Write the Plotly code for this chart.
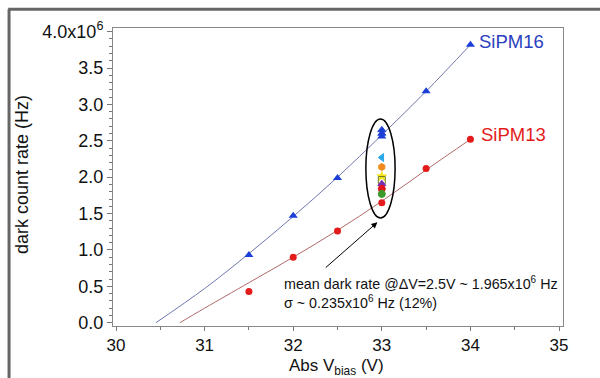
import plotly.graph_objects as go

# ---- data (rates in units of 10^6 Hz) ----
v_pts = [31.5, 32.0, 32.5, 33.0, 33.5, 34.0]
sipm16_rate = [0.93, 1.47, 1.99, 2.56, 3.18, 3.82]
sipm13_rate = [0.43, 0.90, 1.26, 1.65, 2.12, 2.52]

fit16_v = [30.45, 31.0, 31.5, 32.0, 32.5, 33.0, 33.5, 34.0]
fit16_rate = [0.0, 0.47, 0.95, 1.46, 2.0, 2.58, 3.18, 3.82]
fit13_v = [30.72, 31.0, 31.5, 32.0, 32.5, 33.0, 33.5, 34.0]
fit13_rate = [0.0, 0.2, 0.55, 0.9, 1.27, 1.67, 2.1, 2.52]

cluster_v = [33.0] * 9
cluster_rate = [2.65, 2.60, 2.27, 2.14, 2.01, 1.96, 1.91, 1.84, 1.77]
cluster_symbols = ["triangle-up", "triangle-up", "triangle-left", "hexagon", "star",
                   "square-open", "triangle-up", "circle", "circle"]
cluster_colors = ["#1b3fd6", "#1b3fd6", "#29a8e8", "#f08a1c", "#f2e21a",
                  "#6b7a10", "#7a2fb0", "#e0181c", "#3c9a2a"]

x_ticks = [30, 31, 32, 33, 34, 35]
y_ticks = [0.0, 0.5, 1.0, 1.5, 2.0, 2.5, 3.0, 3.5, 4.0]
y_ticktext = ["0.0", "0.5", "1.0", "1.5", "2.0", "2.5", "3.0", "3.5", "4.0x10<sup>6</sup>"]

BLUE = "#1b3fd6"
RED = "#e31b1b"
FONT = "Arial, Liberation Sans, sans-serif"

fig = go.Figure()
fig.add_trace(go.Scatter(x=fit16_v, y=fit16_rate, mode="lines",
                         line=dict(color="#6f78b0", width=1, shape="spline"), hoverinfo="skip"))
fig.add_trace(go.Scatter(x=fit13_v, y=fit13_rate, mode="lines",
                         line=dict(color="#b06a6a", width=1, shape="spline"), hoverinfo="skip"))
fig.add_trace(go.Scatter(x=v_pts, y=sipm16_rate, mode="markers",
                         marker=dict(symbol="triangle-up", size=8, color=BLUE)))
fig.add_trace(go.Scatter(x=v_pts, y=sipm13_rate, mode="markers",
                         marker=dict(symbol="circle", size=7, color=RED)))
fig.add_trace(go.Scatter(x=cluster_v, y=cluster_rate, mode="markers",
                         marker=dict(symbol=cluster_symbols, size=7, color=cluster_colors,
                                     line=dict(width=1, color=cluster_colors))))

# ellipse around the cluster
fig.add_shape(type="circle", xref="x", yref="y", x0=32.82, x1=33.15, y0=1.44, y1=2.80,
              line=dict(color="black", width=1.5))

# outer frame (cropped window border)
fig.add_shape(type="line", xref="paper", yref="paper", x0=-0.233, x1=1.1, y0=1.063, y1=1.063,
              line=dict(color="#666", width=3))
fig.add_shape(type="line", xref="paper", yref="paper", x0=-0.231, x1=-0.231, y0=1.063, y1=-0.2,
              line=dict(color="#666", width=3))

# arrow
fig.add_annotation(x=32.95, y=1.38, ax=32.35, ay=0.74, xref="x", yref="y", axref="x", ayref="y",
                   text="", showarrow=True, arrowhead=2, arrowsize=1.2, arrowwidth=1, arrowcolor="black")

fig.add_annotation(x=34.07, y=3.87, text="SiPM16", showarrow=False, xanchor="left", yanchor="middle",
                   font=dict(family=FONT, size=18.5, color="#2a40c0"))
fig.add_annotation(x=34.1, y=2.59, text="SiPM13", showarrow=False, xanchor="left", yanchor="middle",
                   font=dict(family=FONT, size=18.5, color=RED))
fig.add_annotation(x=31.87, y=0.55, text="mean dark rate @ΔV=2.5V ~ 1.965x10<sup>6</sup> Hz",
                   showarrow=False, xanchor="left", yanchor="middle",
                   font=dict(family=FONT, size=14.3, color="#111"))
fig.add_annotation(x=31.87, y=0.28, text="σ ~ 0.235x10<sup>6</sup> Hz (12%)",
                   showarrow=False, xanchor="left", yanchor="middle",
                   font=dict(family=FONT, size=14.3, color="#111"))

# axis titles
fig.add_annotation(xref="paper", yref="paper", x=0.497, y=-0.138, text="Abs V<sub>bias</sub> (V)",
                   showarrow=False, xanchor="center", yanchor="middle",
                   font=dict(family=FONT, size=17, color="#111"))
fig.add_annotation(xref="paper", yref="paper", x=-0.202, y=0.507, text="dark count rate (Hz)",
                   showarrow=False, xanchor="center", yanchor="middle", textangle=-90,
                   font=dict(family=FONT, size=18, color="#111"))

fig.update_layout(
    width=600, height=378,
    margin=dict(l=113, r=37, t=28, b=52),
    plot_bgcolor="white", paper_bgcolor="white",
    showlegend=False,
    font=dict(family=FONT, size=18, color="#111"),
)
fig.update_xaxes(range=[29.966, 35.045], tickvals=x_ticks, ticks="outside", ticklen=4,
                 tickcolor="#777", showline=True, linecolor="#888", linewidth=1, mirror=True,
                 showgrid=False, zeroline=False,
                 minor=dict(dtick=0.5, ticks="outside", ticklen=3, tickcolor="#777"),
                 tickfont=dict(family=FONT, size=17, color="#111"))
fig.update_yaxes(range=[-0.045, 4.05], tickvals=y_ticks, ticktext=y_ticktext, ticks="outside",
                 ticklen=5, tickcolor="#777", showline=True, linecolor="#888", linewidth=1, mirror=True,
                 showgrid=False, zeroline=False,
                 minor=dict(dtick=0.1, ticks="outside", ticklen=3, tickcolor="#777"),
                 tickfont=dict(family=FONT, size=18, color="#111"))

fig.write_html("out.html", config={"displayModeBar": False},
               post_script="document.body.style.margin='0px';document.body.style.overflow='hidden';")
